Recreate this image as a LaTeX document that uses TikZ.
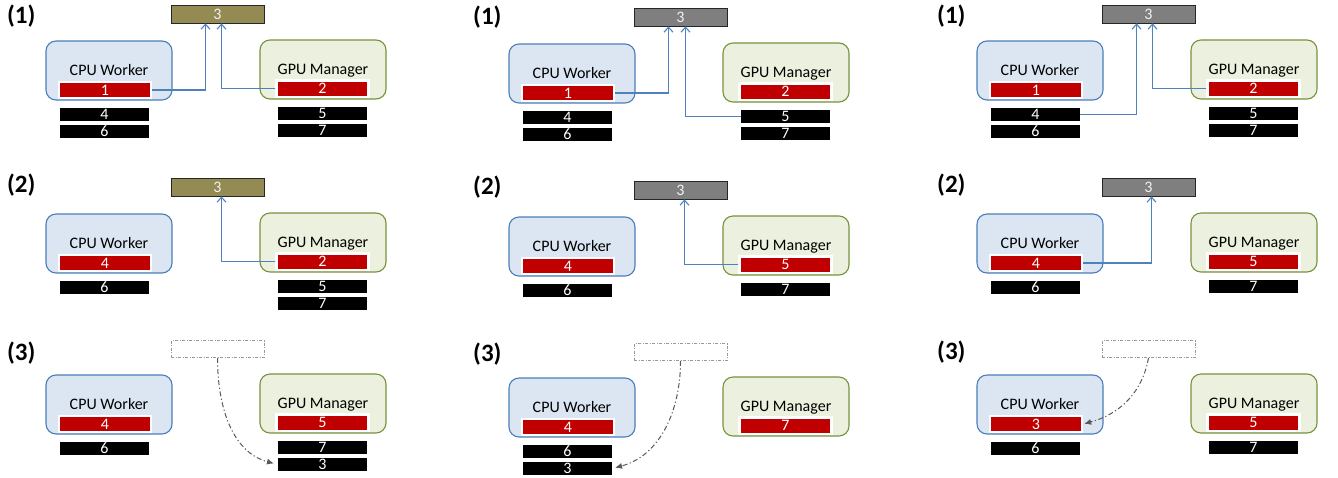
\documentclass[tikz,border=0pt]{standalone}
\usepackage{fontspec}
\setmainfont{Carlito}
\usetikzlibrary{arrows.meta}
\definecolor{cpufill}{HTML}{DCE6F2}
\definecolor{cpuline}{HTML}{4A7EBB}
\definecolor{gpufill}{HTML}{EBF1DE}
\definecolor{gpuline}{HTML}{76923C}
\definecolor{taskred}{HTML}{C00000}
\definecolor{doneolive}{HTML}{948A54}
\definecolor{donegray}{HTML}{7F7F7F}
\definecolor{linkblue}{HTML}{4F81BD}
\definecolor{movegray}{HTML}{595959}
\tikzset{
  panel/.style   = {font=\fontsize{25}{28}\selectfont\bfseries, anchor=west, inner sep=0pt},
  cpu/.style     = {rectangle, rounded corners=10pt, draw=cpuline, line width=1.1pt, fill=cpufill,
                    minimum width=126pt, minimum height=59pt, inner sep=0pt,
                    font=\fontsize{16}{18}\selectfont, text height=10.3pt, text depth=0pt},
  gpu/.style     = {rectangle, rounded corners=10pt, draw=gpuline, line width=1.1pt, fill=gpufill,
                    minimum width=126pt, minimum height=59pt, inner sep=0pt,
                    font=\fontsize{16}{18}\selectfont, text height=10.3pt, text depth=0pt},
  running/.style = {rectangle, fill=taskred, draw=white, line width=2.4pt, minimum width=92pt,
                    minimum height=16.4pt, inner sep=0pt, text=white,
                    font=\fontsize{16}{18}\selectfont, text height=10pt, text depth=0pt},
  waiting/.style = {rectangle, fill=black, minimum width=89pt, minimum height=13.5pt, inner sep=0pt,
                    text=white, font=\fontsize{16}{18}\selectfont, text height=10pt, text depth=0pt},
  result/.style  = {rectangle, fill=doneolive, draw=black!85, line width=0.8pt, minimum width=93pt,
                    minimum height=18pt, inner sep=0pt, text=white!95!black,
                    font=\fontsize{16}{18}\selectfont, text height=10pt, text depth=0pt},
  slot/.style    = {rectangle, draw=gray!80, line width=0.7pt, dash pattern=on 3pt off 1.5pt on 1pt off 1.5pt,
                    minimum width=93pt, minimum height=17pt, inner sep=0pt},
  feed/.style    = {line width=1.1pt, draw=linkblue, -{Straight Barb[length=5pt,width=9pt]}},
  transfer/.style = {line width=1pt, draw=movegray, dash pattern=on 5pt off 2.5pt on 1.2pt off 2.5pt,
                    -{Latex[length=7pt,width=6pt]}},
}

\begin{document}
\begin{tikzpicture}[x=1pt, y=1pt]
\useasboundingbox (0,0) rectangle (1338,-477);

% Row 1: both processors report to the shared slot
\begin{scope}[shift={(0,0)}]
  \node (l11) [panel] at (7,-16) {(1)};
  \node (top11) [result] at (217.5,-14) {3};
  \node (cpu11) [cpu] at (109,-70.5) {CPU Worker};
  \node (gpu11) [gpu] at (323,-69.5) {GPU Manager};
  \node (r11c) [running] at (105,-90) {1};
  \node (r11g) [running] at (322.5,-88.5) {2};
  \node (b11c1) [waiting] at (104.5,-114.5) {4};
  \node (b11c2) [waiting] at (104.5,-131.5) {6};
  \node (b11g1) [waiting] at (322.5,-113.5) {5};
  \node (b11g2) [waiting] at (322.5,-130.5) {7};
  \draw [feed] (r11c.east) -| ([xshift=-12pt]top11.south);
  \draw [feed] (r11g.west) -| ([xshift=4pt]top11.south);
\end{scope}

\begin{scope}[shift={(463,-3)}]
  \node (l12) [panel] at (10,-14.5) {(1)};
  \node (top12) [result, fill=donegray] at (217.5,-14) {3};
  \node (cpu12) [cpu] at (109,-70.5) {CPU Worker};
  \node (gpu12) [gpu] at (323,-69.5) {GPU Manager};
  \node (r12c) [running] at (105,-90) {1};
  \node (r12g) [running] at (322.5,-88.5) {2};
  \node (b12c1) [waiting] at (104.5,-114.5) {4};
  \node (b12c2) [waiting] at (104.5,-131.5) {6};
  \node (b12g1) [waiting] at (322.5,-113.5) {5};
  \node (b12g2) [waiting] at (322.5,-130.5) {7};
  \draw [feed] (r12c.east) -| ([xshift=-12pt]top12.south);
  \draw [feed] (b12g1.west) -| ([xshift=5pt]top12.south);
\end{scope}

\begin{scope}[shift={(931,0)}]
  \node (l13) [panel] at (6,-16) {(1)};
  \node (top13) [result, fill=donegray] at (217.5,-14) {3};
  \node (cpu13) [cpu] at (109,-70.5) {CPU Worker};
  \node (gpu13) [gpu] at (323,-69.5) {GPU Manager};
  \node (r13c) [running] at (105,-90) {1};
  \node (r13g) [running] at (322.5,-88.5) {2};
  \node (b13c1) [waiting] at (104.5,-114.5) {4};
  \node (b13c2) [waiting] at (104.5,-131.5) {6};
  \node (b13g1) [waiting] at (322.5,-113.5) {5};
  \node (b13g2) [waiting] at (322.5,-130.5) {7};
  \draw [feed] (b13c1.east) -| ([xshift=-12pt]top13.south);
  \draw [feed] (r13g.west) -| ([xshift=4pt]top13.south);
\end{scope}

% Row 2: one processor keeps the slot
\begin{scope}[shift={(0,-173)}]
  \node (l21) [panel] at (7,-12) {(2)};
  \node (top21) [result] at (217.5,-14) {3};
  \node (cpu21) [cpu] at (109,-70.5) {CPU Worker};
  \node (gpu21) [gpu] at (323,-69.5) {GPU Manager};
  \node (r21c) [running] at (105,-90) {4};
  \node (r21g) [running] at (322.5,-88.5) {2};
  \node (b21c1) [waiting] at (104.5,-114.5) {6};
  \node (b21g1) [waiting] at (322.5,-113.5) {5};
  \node (b21g2) [waiting] at (322.5,-130.5) {7};
  \draw [feed] (r21g.west) -| ([xshift=4pt]top21.south);
\end{scope}

\begin{scope}[shift={(463,-176)}]
  \node (l22) [panel] at (10,-11) {(2)};
  \node (top22) [result, fill=donegray] at (217.5,-14) {3};
  \node (cpu22) [cpu] at (109,-70.5) {CPU Worker};
  \node (gpu22) [gpu] at (323,-69.5) {GPU Manager};
  \node (r22c) [running] at (105,-90) {4};
  \node (r22g) [running] at (322.5,-88.5) {5};
  \node (b22c1) [waiting] at (104.5,-114.5) {6};
  \node (b22g1) [waiting] at (322.5,-113.5) {7};
  \draw [feed] (r22g.west) -| ([xshift=4pt]top22.south);
\end{scope}

\begin{scope}[shift={(931,-173)}]
  \node (l23) [panel] at (6,-12) {(2)};
  \node (top23) [result, fill=donegray] at (217.5,-14) {3};
  \node (cpu23) [cpu] at (109,-70.5) {CPU Worker};
  \node (gpu23) [gpu] at (323,-69.5) {GPU Manager};
  \node (r23c) [running] at (105,-90) {4};
  \node (r23g) [running] at (322.5,-88.5) {5};
  \node (b23c1) [waiting] at (104.5,-114.5) {6};
  \node (b23g1) [waiting] at (322.5,-113.5) {7};
  \draw [feed] (r23c.east) -| ([xshift=3pt]top23.south);
\end{scope}

% Row 3: the freed task moves to a queue
\begin{scope}[shift={(0,-334)}]
  \node (l31) [panel] at (7,-19) {(3)};
  \node (top31) [slot] at (217.5,-15) {};
  \node (cpu31) [cpu] at (109,-70.5) {CPU Worker};
  \node (gpu31) [gpu] at (323,-69.5) {GPU Manager};
  \node (r31c) [running] at (105,-90) {4};
  \node (r31g) [running] at (322.5,-88.5) {5};
  \node (b31c1) [waiting] at (104.5,-114.5) {6};
  \node (b31g1) [waiting] at (322.5,-113.5) {7};
  \node (b31g2) [waiting] at (322.5,-130.5) {3};
  \draw [transfer, shorten >=4pt] (top31.south) to[out=-90, in=165] (b31g2.west);
\end{scope}

\begin{scope}[shift={(463,-337)}]
  \node (l32) [panel] at (10,-17) {(3)};
  \node (top32) [slot] at (217.5,-15) {};
  \node (cpu32) [cpu] at (109,-70.5) {CPU Worker};
  \node (gpu32) [gpu] at (323,-69.5) {GPU Manager};
  \node (r32c) [running] at (105,-90) {4};
  \node (r32g) [running] at (322.5,-88.5) {7};
  \node (b32c1) [waiting] at (104.5,-114.5) {6};
  \node (b32c2) [waiting] at (104.5,-131.5) {3};
  \draw [transfer, shorten >=3pt] (top32.south) to[out=-90, in=15] (b32c2.east);
\end{scope}

\begin{scope}[shift={(931,-334)}]
  \node (l33) [panel] at (6,-18) {(3)};
  \node (top33) [slot] at (217.5,-15) {};
  \node (cpu33) [cpu] at (109,-70.5) {CPU Worker};
  \node (gpu33) [gpu] at (323,-69.5) {GPU Manager};
  \node (r33c) [running] at (105,-90) {3};
  \node (r33g) [running] at (322.5,-88.5) {5};
  \node (b33c1) [waiting] at (104.5,-114.5) {6};
  \node (b33g1) [waiting] at (322.5,-113.5) {7};
  \draw [transfer, shorten >=1pt] (top33.south) to[out=-100, in=15] (r33c.east);
\end{scope}

\end{tikzpicture}
\end{document}
